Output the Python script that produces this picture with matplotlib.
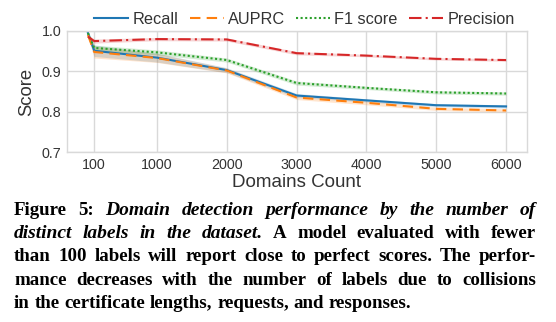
import numpy as np
import matplotlib
matplotlib.use("Agg")
import matplotlib.pyplot as plt

# ---- data ----
domains = [10, 100, 1000, 2000, 3000, 4000, 5000, 6000]
recall = [0.995, 0.951, 0.934, 0.903, 0.840, 0.828, 0.816, 0.813]
auprc = [0.990, 0.948, 0.933, 0.902, 0.835, 0.822, 0.807, 0.803]
f1 = [0.995, 0.958, 0.947, 0.928, 0.871, 0.859, 0.848, 0.845]
precision = [0.986, 0.975, 0.980, 0.979, 0.945, 0.939, 0.931, 0.928]
recall_ci = [0.006, 0.014, 0.011, 0.006, 0.005, 0.004, 0.004, 0.004]
auprc_ci = [0.006, 0.015, 0.011, 0.006, 0.005, 0.005, 0.004, 0.004]
f1_ci = [0.005, 0.007, 0.006, 0.005, 0.005, 0.004, 0.004, 0.004]
precision_ci = [0.004, 0.005, 0.004, 0.004, 0.004, 0.003, 0.003, 0.003]
series_names = ["Recall", "AUPRC", "F1 score", "Precision"]
x_ticks = [100, 1000, 2000, 3000, 4000, 5000, 6000]
y_ticks = [0.7, 0.8, 0.9, 1.0]

caption_lines = [
    [("Figure 5:", "b"), ("Domain detection performance by the number of", "bi")],
    [("distinct labels in the dataset.", "bi"), ("A model evaluated with fewer", "b")],
    [("than 100 labels will report close to perfect scores. The perfor-", "b")],
    [("mance decreases with the number of labels due to collisions", "b")],
    [("in the certificate lengths, requests, and responses.", "b")],
]

W, H = 556, 322
fig = plt.figure(figsize=(W / 100, H / 100), dpi=100)
plt.rcParams['font.family'] = ['Liberation Sans', 'DejaVu Sans']

L, R, T, B = 67, 527, 31, 152
ax = fig.add_axes([L / W, 1 - B / H, (R - L) / W, (B - T) / H])

colors = ["#1f77b4", "#ff7f0e", "#2ca02c", "#d62728"]
styles = ["-", (0, (5, 3)), (0, (1, 1.2)), (0, (6, 2, 1, 2))]
vals = [recall, auprc, f1, precision]
cis = [recall_ci, auprc_ci, f1_ci, precision_ci]
x = np.array(domains)
for name, v, c, col, ls in zip(series_names, vals, cis, colors, styles):
    v = np.array(v); c = np.array(c)
    ax.fill_between(x, v - c, v + c, color=col, alpha=0.2, linewidth=0)
    ax.plot(x, v, color=col, linestyle=ls, linewidth=1.5, label=name)

ax.set_xlim(-290, 6300)
ax.set_ylim(0.7, 1.0)
ax.set_xticks(x_ticks)
ax.set_xticklabels([str(t) for t in x_ticks])
ax.set_yticks(y_ticks)
ax.set_yticklabels([f"{t:.1f}" for t in y_ticks])
ax.grid(True, color="#d9d9d9", linewidth=1.0)
ax.set_axisbelow(True)
for s in ax.spines.values():
    s.set_color("#d9d9d9")
    s.set_linewidth(1.0)
ax.tick_params(length=0, labelsize=10.3, colors="#333333", pad=4)
ax.set_xlabel("Domains Count", fontsize=13.5, color="#333333", labelpad=2)
ax.set_ylabel("Score", fontsize=13.3, color="#333333", labelpad=5)

leg = ax.legend(loc="lower center", bbox_to_anchor=(0.516, 1.035), ncol=4, frameon=False,
                fontsize=11.7, handlelength=2.1, columnspacing=0.7, handletextpad=0.25,
                borderaxespad=0.0, borderpad=0.0, labelcolor="#333333")

# ---- caption, justified ----
fig.canvas.draw()
rend = fig.canvas.get_renderer()
cap_size = 13.6
def style_kw(st):
    return dict(family=["Liberation Serif", "DejaVu Serif"],
                fontsize=14.0 if st == "bi" else cap_size,
                fontweight="bold", fontstyle="italic" if st == "bi" else "normal",
                color="black")

def width(s, st):
    t = fig.text(0, 0, s, **style_kw(st))
    w = t.get_window_extent(rend).width
    t.remove()
    return w

x0, x1 = 14, 536
base0, step = 215, 23.2
space_nat = width("a a", "b") - width("aa", "b")
for i, line in enumerate(caption_lines):
    words = []
    for seg, st in line:
        for w_ in seg.split(" "):
            words.append((w_, st))
    ws = [width(w_, st) for w_, st in words]
    last = i == len(caption_lines) - 1
    if last or len(words) < 2:
        gap = space_nat
    else:
        gap = (x1 - x0 - sum(ws)) / (len(words) - 1)
    xp = x0
    yb = base0 + i * step
    for (w_, st), ww in zip(words, ws):
        fig.text(xp / W, 1 - yb / H, w_, va="baseline", ha="left", **style_kw(st))
        xp += ww + gap

fig.savefig("out.png", dpi=100)
